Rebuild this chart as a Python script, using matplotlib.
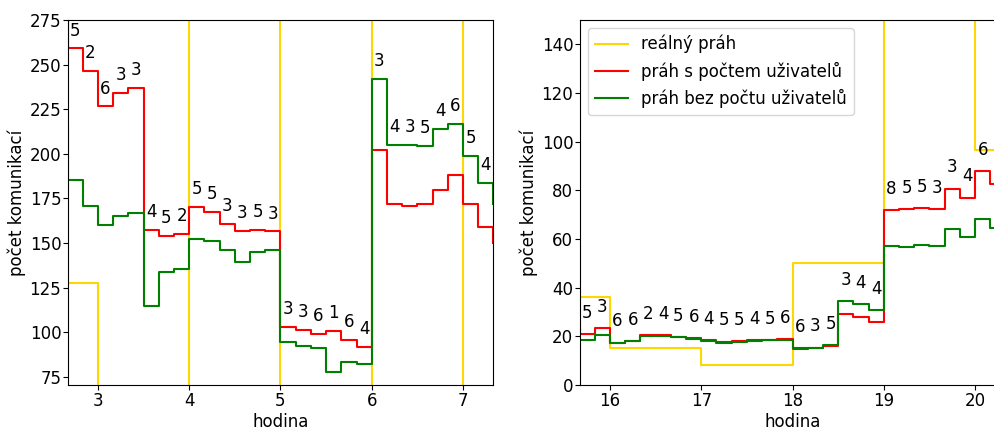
import matplotlib
matplotlib.use("Agg")
import matplotlib.pyplot as plt
import numpy as np

# 10-minute bins, left panel (night) and right panel (afternoon/evening)
left_start = 2.5
left_red = [290, 259, 246.5, 226.5, 234, 237, 157.5, 154, 155, 170, 167.5, 160.5,
            157, 157.5, 156.5, 103, 101.5, 99, 101, 95.5, 92, 202, 172, 171, 172,
            180, 188, 172, 159, 150]
left_green = [215.5, 185.5, 170.5, 160, 165, 167, 115, 134, 135.5, 152, 151, 146,
              139.5, 145, 146, 94.5, 92.5, 91, 78, 83.5, 82.5, 242, 205, 205, 204.5,
              214, 216.5, 199, 183.5, 172]
left_labels = ['', '5', '2', '6', '3', '3', '4', '5', '2', '5', '5', '3', '3', '5', '3',
               '3', '3', '6', '1', '6', '4', '3', '4', '3', '5', '4', '6', '5', '4', '']
left_hours = [2, 3, 4, 5, 6, 7, 8]
left_real = [127.5, 40, 320, 45, 290, 60, 60]

right_start = 15.5
right_red = [23.4, 21, 23.5, 17.4, 18.2, 20.5, 20.5, 19.7, 19.2, 18.3, 17.8, 18.2,
             18.6, 18.6, 18.9, 14.8, 15.0, 16.1, 29.0, 28.0, 25.7, 71.8, 72.2, 72.8,
             72.4, 80.7, 77.0, 88.0, 82.4, 85]
right_green = [18.5, 18.5, 20.7, 17.1, 18.2, 20.0, 20.0, 19.6, 18.9, 18.0, 17.4, 17.5,
               18.2, 18.3, 18.6, 15.0, 15.4, 16.5, 34.6, 33.1, 30.8, 57.1, 56.8, 57.5,
               57.3, 64.2, 60.9, 68.3, 64.6, 66]
right_labels = ['', '5', '3', '6', '6', '2', '4', '5', '6', '4', '5', '5', '4', '5', '6',
                '6', '3', '5', '3', '4', '4', '8', '5', '5', '3', '3', '4', '6', '5', '']
right_hours = [15, 16, 17, 18, 19, 20, 21]
right_real = [36, 15, 8.3, 50, 180, 96.5, 96.5]

plt.rcParams['font.size'] = 12
plt.rcParams['xtick.major.pad'] = 1.2
plt.rcParams['ytick.major.pad'] = 1.0
plt.rcParams['axes.labelpad'] = 2.5

fig = plt.figure(figsize=(9.95, 4.28), dpi=100)
ax1 = fig.add_axes([0.0679, 0.1005, 0.428, 0.853])
ax2 = fig.add_axes([0.5825, 0.1005, 0.428, 0.853])


def draw(ax, start, red, green, labels, hours, real, xlim, ylim, xticks):
    x = start + np.arange(len(red)) / 6.0
    ax.step(hours, real, where='post', color='gold', lw=1.5, label='reálný práh')
    ax.step(x, red, where='post', color='red', lw=1.5, label='práh s počtem uživatelů')
    ax.step(x, green, where='post', color='green', lw=1.5, label='práh bez počtu uživatelů')
    for xi, r, g, lab in zip(x, red, green, labels):
        if lab:
            ax.text(xi + 1 / 12, max(r, g) + 5, lab, ha='center', va='bottom',
                    fontsize=12, clip_on=False)
    ax.set_xlim(*xlim)
    ax.set_ylim(*ylim)
    ax.set_xticks(xticks)
    ax.set_xlabel('hodina')
    ax.set_ylabel('počet komunikací')


draw(ax1, left_start, left_red, left_green, left_labels, left_hours, left_real,
     (2 + 2 / 3, 7 + 1 / 3), (70.5, 275), [3, 4, 5, 6, 7])
draw(ax2, right_start, right_red, right_green, right_labels, right_hours, right_real,
     (15 + 2 / 3, 20 + 1 / 3), (0, 150), [16, 17, 18, 19, 20])
ax2.legend(loc='upper left', fontsize=12)

fig.savefig('out.png', dpi=100)
